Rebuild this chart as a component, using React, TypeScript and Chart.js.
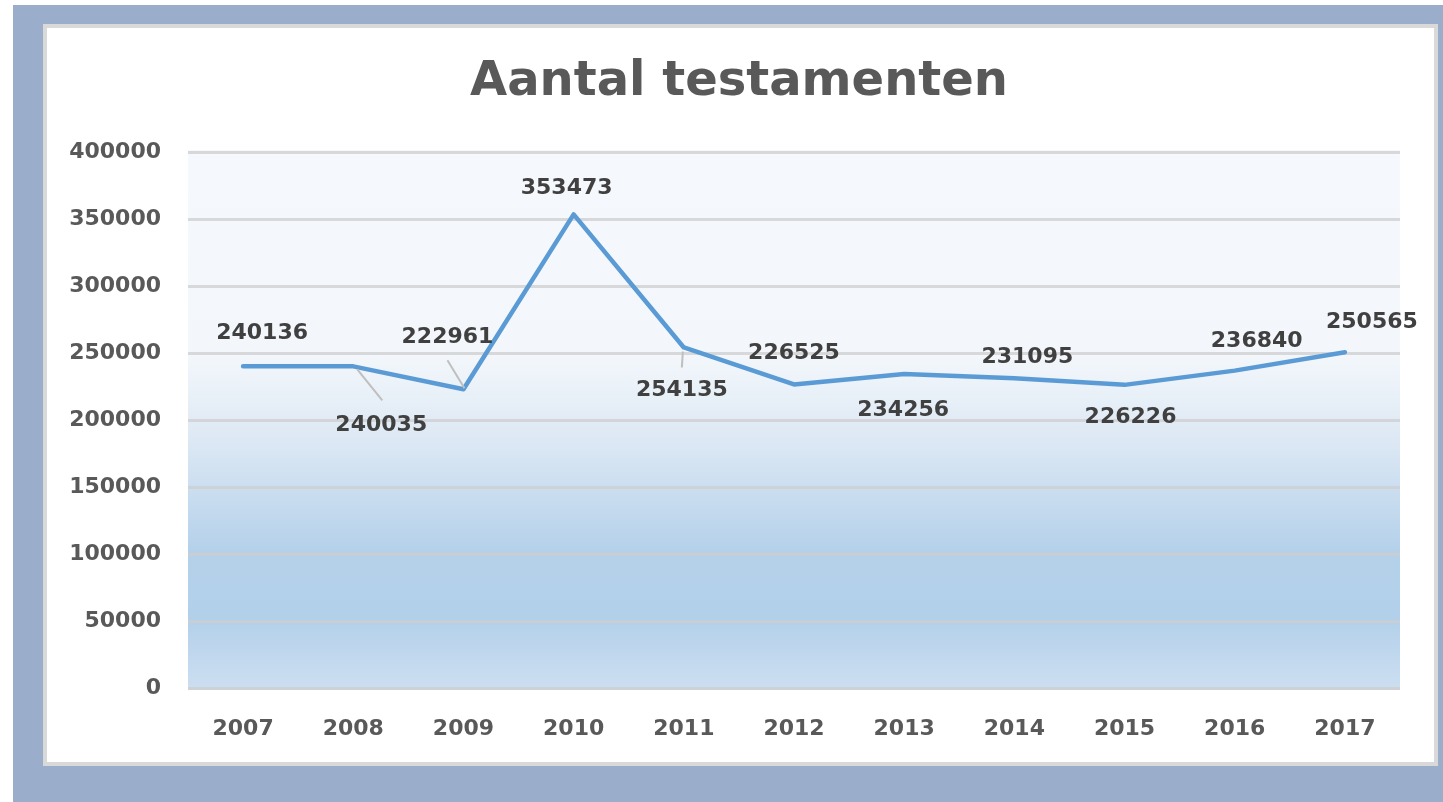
import React, { useEffect, useRef } from "react";
import { Chart, registerables } from "chart.js";

Chart.register(...registerables);

const chartTitle = "Aantal testamenten";
const years = ["2007", "2008", "2009", "2010", "2011", "2012", "2013", "2014", "2015", "2016", "2017"];
const testamenten = [240136, 240035, 222961, 353473, 254135, 226525, 234256, 231095, 226226, 236840, 250565];
const yMax = 400000;
const yStep = 50000;

// label placement relative to each point (dx, dy)
const labelOffsets: [number, number][] = [
  [19, -33], [28, 59], [-16, -52], [-7, -26], [-2, 43], [0, -31],
  [-1, 36], [13, -21], [6, 32], [22, -29], [27, -30],
];
// leader lines: index, start relative to point/label, end relative to point/label
const leaders: { i: number; from: "p" | "l"; f: [number, number]; to: "p" | "l"; t: [number, number] }[] = [
  { i: 1, from: "p", f: [4, 3], to: "l", t: [1, -25] },
  { i: 2, from: "l", f: [0, 23], to: "p", t: [1, -1] },
  { i: 4, from: "p", f: [-1, 4], to: "l", t: [0, -23] },
];

const FONT = "'DejaVu Sans', sans-serif";

const bgPlugin = {
  id: "plotBg",
  beforeDraw(chart: any) {
    const { ctx, chartArea } = chart;
    if (!chartArea) return;
    const top = chartArea.top - 2;
    const h = chartArea.bottom + 2 - top;
    const g = ctx.createLinearGradient(0, top, 0, chartArea.bottom + 2);
    g.addColorStop(0, "#f5f8fc");
    g.addColorStop(0.38, "#f3f7fb");
    g.addColorStop(0.54, "#dce8f4");
    g.addColorStop(0.74, "#b5d1ea");
    g.addColorStop(0.87, "#b3d0ea");
    g.addColorStop(1, "#cddff1");
    ctx.save();
    ctx.fillStyle = g;
    ctx.fillRect(chartArea.left, top, chartArea.right - chartArea.left, h);
    ctx.restore();
  },
};

// chart title, centred on the chart panel (not the plot area)
const titlePlugin = {
  id: "panelTitle",
  afterDraw(chart: any) {
    const { ctx, width } = chart;
    ctx.save();
    ctx.font = `bold 48px ${FONT}`;
    ctx.fillStyle = "#595959";
    ctx.textAlign = "center";
    ctx.textBaseline = "middle";
    ctx.fillText(chartTitle, width / 2 - 1.5, 55);
    ctx.restore();
  },
};

const labelPlugin = {
  id: "dataLabels",
  afterDatasetsDraw(chart: any) {
    const { ctx } = chart;
    const meta = chart.getDatasetMeta(0);
    const pts = meta.data;
    ctx.save();
    ctx.strokeStyle = "#bfbfbf";
    ctx.lineWidth = 2;
    leaders.forEach((ld) => {
      const p = pts[ld.i];
      const o = labelOffsets[ld.i];
      const base = (k: "p" | "l") => (k === "p" ? [p.x, p.y] : [p.x + o[0], p.y + o[1]]);
      const a = base(ld.from);
      const b = base(ld.to);
      ctx.beginPath();
      ctx.moveTo(a[0] + ld.f[0], a[1] + ld.f[1]);
      ctx.lineTo(b[0] + ld.t[0], b[1] + ld.t[1]);
      ctx.stroke();
    });
    ctx.font = `bold 22px ${FONT}`;
    ctx.fillStyle = "#404040";
    ctx.textAlign = "center";
    ctx.textBaseline = "middle";
    pts.forEach((p: any, i: number) => {
      const o = labelOffsets[i];
      ctx.fillText(String(testamenten[i]), p.x + o[0], p.y + o[1]);
    });
    ctx.restore();
  },
};

function LineChart() {
  const ref = useRef<HTMLCanvasElement>(null);
  useEffect(() => {
    if (!ref.current) return;
    const chart = new Chart(ref.current, {
      type: "line",
      data: {
        labels: years,
        datasets: [
          {
            data: testamenten,
            borderColor: "#5b9bd5",
            borderWidth: 4.5,
            pointRadius: 0,
            pointHoverRadius: 0,
            tension: 0,
            borderJoinStyle: "round",
            borderCapStyle: "round",
            fill: false,
          },
        ],
      },
      options: {
        animation: false,
        responsive: false,
        devicePixelRatio: 1,
        layout: { padding: { left: 0, right: 34, top: 124, bottom: 0 } },
        plugins: {
          legend: { display: false },
          tooltip: { enabled: false },
          title: { display: false },
        },
        scales: {
          x: {
            offset: true,
            grid: { display: false, drawTicks: false },
            border: { display: false },
            ticks: {
              color: "#595959",
              font: { family: FONT, size: 22, weight: "bold", lineHeight: 1.2 },
              padding: 28,
              maxRotation: 0,
              autoSkip: false,
            },
            afterFit(scale: any) {
              scale.height = 74;
            },
          },
          y: {
            min: 0,
            max: yMax,
            grid: { color: "rgba(205,205,205,0.75)", lineWidth: 3, drawTicks: false },
            border: { display: false },
            ticks: {
              stepSize: yStep,
              color: "#595959",
              font: { family: FONT, size: 22, weight: "bold", lineHeight: 1.2 },
              padding: 27,
              callback: (v: any) => String(v),
            },
            afterFit(scale: any) {
              scale.width = 141;
            },
          },
        },
      },
      plugins: [bgPlugin, labelPlugin, titlePlugin],
    });
    return () => chart.destroy();
  }, []);
  return <canvas ref={ref} width={1387} height={734} style={{ display: "block", width: 1387, height: 734 }} />;
}

export default function App() {
  return (
    <div style={{ position: "fixed", left: 0, top: 0, width: 1443, height: 802, background: "#ffffff", overflow: "hidden" }}>
      <div style={{ position: "absolute", left: 13, top: 5, width: 1430, height: 797, background: "#9aaecb" }} />
      <div
        style={{
          position: "absolute",
          left: 43,
          top: 24,
          width: 1387,
          height: 734,
          border: "4px solid #d9d9d9",
          background: "#ffffff",
        }}
      >
        <LineChart />
      </div>
    </div>
  );
}
